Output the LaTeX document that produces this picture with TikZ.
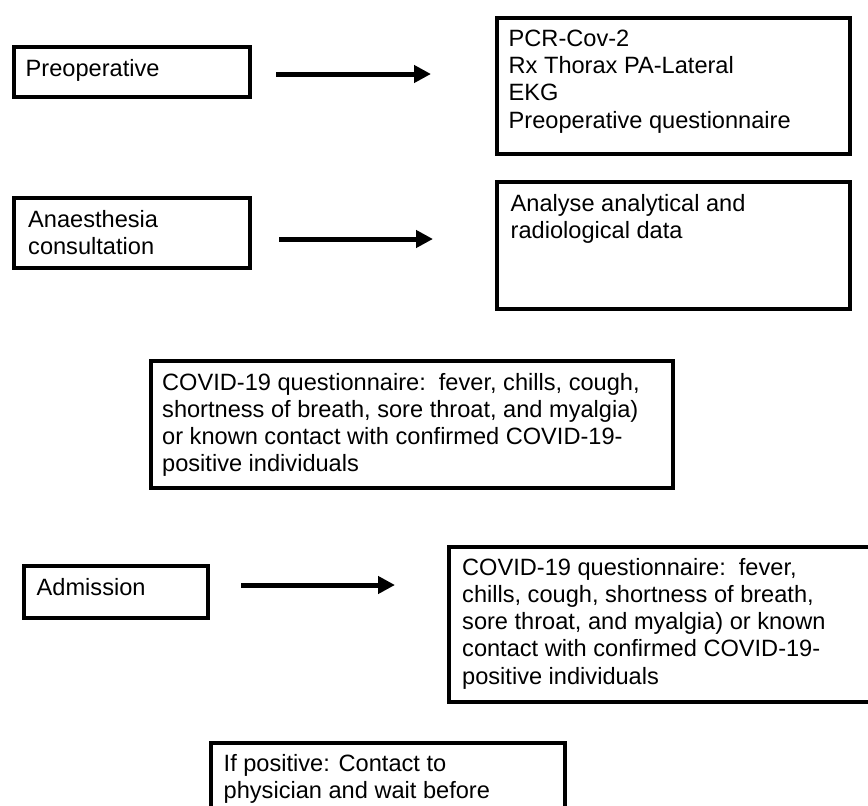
\documentclass[tikz,border=0pt]{standalone}
\usepackage{fontspec}
\setmainfont{Liberation Sans}
\usetikzlibrary{arrows.meta}
\tikzset{
  boxshape/.style={draw=black, line width=4pt, rectangle, inner sep=0pt, anchor=north west},
  txt/.style={inner sep=0pt, anchor=base west, align=left, font=\fontsize{23.6}{27.2}\selectfont},
  flowarrow/.style={line width=5pt, -{Triangle[length=17pt,width=17pt]}}
}
\begin{document}
\begin{tikzpicture}[x=1pt,y=-1pt]
\clip (0,0) rectangle (868,806);
\fill[white] (0,0) rectangle (868,806);
% boxes
\node[boxshape, minimum width=236pt, minimum height=50pt] (pre) at (12,45) {};
\node[boxshape, minimum width=236pt, minimum height=70pt] (ana) at (12,196) {};
\node[boxshape, minimum width=353pt, minimum height=136pt] (pcr) at (495,16) {};
\node[boxshape, minimum width=353pt, minimum height=127pt] (anl) at (495,180) {};
\node[boxshape, minimum width=522pt, minimum height=127pt] (cov1) at (149,359) {};
\node[boxshape, minimum width=184pt, minimum height=52pt] (adm) at (22,564) {};
\node[boxshape, minimum width=460pt, minimum height=155pt] (cov2) at (447,545) {};
\node[boxshape, minimum width=354pt, minimum height=120pt] (ifp) at (209,741) {};
% texts (anchor = baseline of the last line)
\node[txt] (pretxt) at (25.5,76) {Preoperative};
\node[txt] (anatxt) at (28,254.2) {Anaesthesia\\consultation};
\node[txt] (pcrtxt) at (508.5,128) {PCR-Cov-2\\Rx Thorax PA-Lateral\\EKG\\Preoperative questionnaire};
\node[txt] (anltxt) at (510.5,238.2) {Analyse analytical and\\radiological data};
\node[txt] (cov1txt) at (162,471.6) {COVID-19 questionnaire:\ \ fever, chills, cough,\\shortness of breath, sore throat, and myalgia)\\or known contact with confirmed COVID-19-\\positive individuals};
\node[txt] (admtxt) at (36.5,595) {Admission};
\node[txt] (cov2txt) at (462,684) {COVID-19 questionnaire:\ \ fever,\\chills, cough, shortness of breath,\\sore throat, and myalgia) or known\\contact with confirmed COVID-19-\\positive individuals};
\node[txt] (ifptxt) at (223.5,798.2) {If positive: Contact to\\physician and wait before};
% arrows
\coordinate (a1s) at (276,74);
\coordinate (a1e) at (431,74);
\coordinate (a2s) at (279,239);
\coordinate (a2e) at (433,239);
\coordinate (a3s) at (241,585);
\coordinate (a3e) at (395,585);
\draw[flowarrow] (a1s) -- (a1e);
\draw[flowarrow] (a2s) -- (a2e);
\draw[flowarrow] (a3s) -- (a3e);
\end{tikzpicture}
\end{document}
